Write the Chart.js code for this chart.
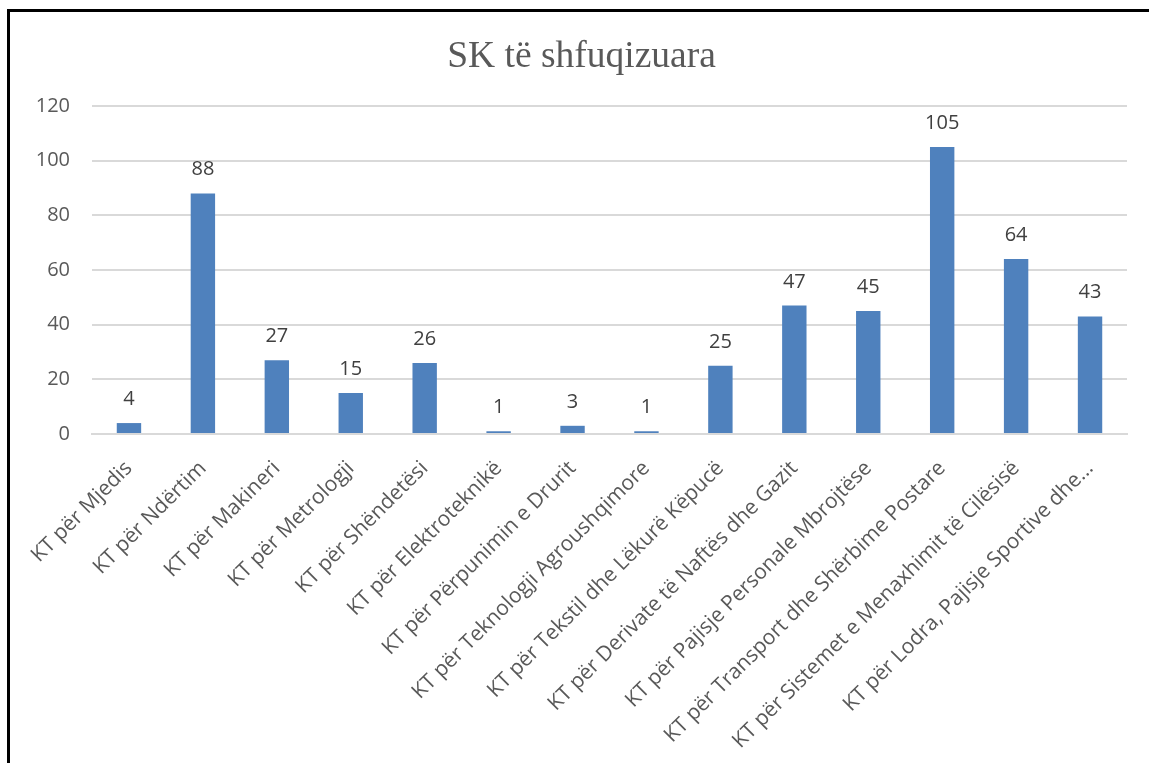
<!DOCTYPE html>
<html>
<head>
<meta charset="utf-8">
<script src="https://cdn.jsdelivr.net/npm/chart.js@4.4.1/dist/chart.umd.min.js"></script>
<style>
  html, body { margin: 0; padding: 0; background: #fff; overflow: hidden; }
  .frame {
    position: absolute; left: 7px; top: 9px;
    width: 2000px; height: 2000px;
    border-left: 3px solid #000; border-top: 3px solid #000;
  }
  .wrap { position: absolute; left: 10px; top: 12px; width: 1150px; height: 751px; }
</style>
</head>
<body>
<div class="frame"></div>
<div class="wrap"><canvas id="chart"></canvas></div>
<script>
const TITLE = "SK të shfuqizuara";

const categories = [
  "KT për Mjedis",
  "KT për Ndërtim",
  "KT për Makineri",
  "KT për Metrologji",
  "KT për Shëndetësi",
  "KT për Elektroteknikë",
  "KT për Përpunimin e Drurit",
  "KT për Teknologji Agroushqimore",
  "KT për Tekstil dhe Lëkurë Këpucë",
  "KT për Derivate të Naftës dhe Gazit",
  "KT për Pajisje Personale Mbrojtëse",
  "KT për Transport dhe Shërbime Postare",
  "KT për Sistemet e Menaxhimit të Cilësisë",
  "KT për Lodra, Pajisje Sportive dhe...",
];

const values = [4, 88, 27, 15, 26, 1, 3, 1, 25, 47, 45, 105, 64, 43];

const yTicks = [0, 20, 40, 60, 80, 100, 120];

const TEXT = "#595959";
const FONT = "'Open Sans', 'Noto Sans', sans-serif";

// value labels above each bar (no datalabels plugin offline)
const barValues = {
  id: "barValues",
  afterDatasetsDraw(chart) {
    const ctx = chart.ctx;
    const meta = chart.getDatasetMeta(0);
    ctx.save();
    ctx.font = `20px ${FONT}`;
    ctx.fillStyle = "#404040";
    ctx.textAlign = "center";
    ctx.textBaseline = "alphabetic";
    meta.data.forEach((bar, i) => {
      ctx.fillText(String(values[i]), bar.x, bar.y - 18);
    });
    ctx.restore();
  },
};

new Chart(document.getElementById("chart"), {
  type: "bar",
  data: {
    labels: categories,
    datasets: [
      {
        data: values,
        backgroundColor: "#4f81bd",
        borderWidth: 0,
        barPercentage: 1,
        categoryPercentage: 0.33,
      },
    ],
  },
  options: {
    responsive: true,
    maintainAspectRatio: false,
    animation: false,
    layout: { padding: { left: 26, right: 33, top: 0, bottom: 0 } },
    plugins: {
      legend: { display: false },
      tooltip: { enabled: false },
      title: {
        display: true,
        text: TITLE,
        color: TEXT,
        font: { family: "'Liberation Serif', 'Times New Roman', serif", size: 37.5, weight: "normal" },
        padding: { top: 22.5, bottom: 26.5 },
      },
    },
    scales: {
      x: {
        grid: { display: false },
        border: { display: true, color: "#d9d9d9", width: 2 },
        ticks: {
          autoSkip: false,
          maxRotation: 45,
          minRotation: 45,
          padding: 14,
          labelOffset: 0,
          color: TEXT,
          font: { family: FONT, size: 21 },
        },
        afterFit(scale) { scale.height = 329; },
      },
      y: {
        min: 0,
        max: 120,
        afterBuildTicks(scale) { scale.ticks = yTicks.map((v) => ({ value: v })); },
        grid: { color: "#d9d9d9", lineWidth: 2, drawTicks: false },
        border: { display: false },
        ticks: {
          padding: 22,
          color: TEXT,
          font: { family: FONT, size: 20 },
        },
        afterFit(scale) { scale.width = 56; },
      },
    },
  },
  plugins: [barValues],
});
</script>
</body>
</html>
